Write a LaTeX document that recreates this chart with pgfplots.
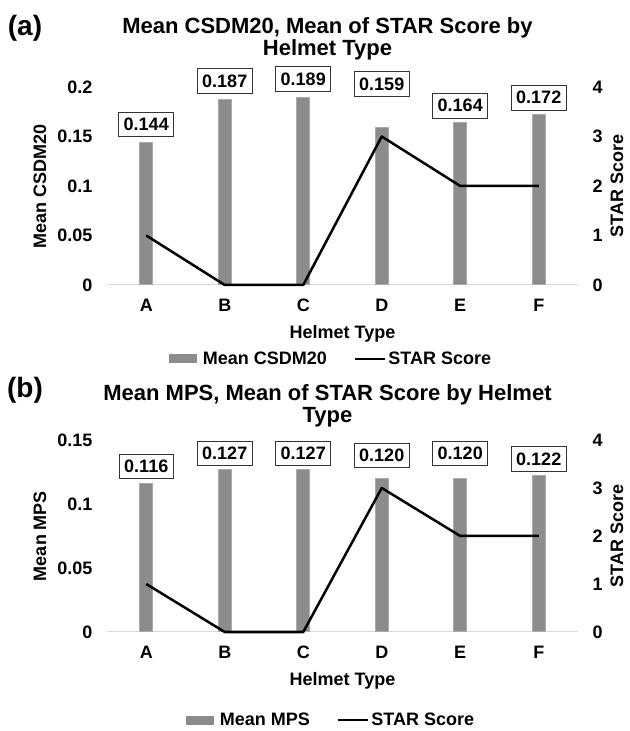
\documentclass[border=0pt]{standalone}
\usepackage{pgfplots}
\usepackage{pgfplotstable}
\pgfplotsset{compat=1.18}
\usepackage{fontspec}
\setmainfont{Liberation Sans}
\definecolor{barfill}{RGB}{140,140,140}
\definecolor{baredge}{RGB}{170,170,170}
\definecolor{zeroline}{RGB}{217,217,217}
\newcommand{\fs}{\fontsize{18bp}{21bp}\selectfont\bfseries}
\newcommand{\ft}{\fontsize{22bp}{22.5bp}\selectfont\bfseries}
\newcommand{\fp}{\fontsize{28bp}{30bp}\selectfont\bfseries}

\pgfplotstableread{
x y off
0 0.144 18
1 0.187 19
2 0.189 19
3 0.159 43.5
4 0.164 17
5 0.172 17
}\csdm
\pgfplotstableread{
x y off
0 0.116 17
1 0.127 16
2 0.127 16
3 0.120 23
4 0.120 25
5 0.122 17
}\mps
\pgfplotstableread{
x y
0 1
1 0
2 0
3 3
4 2
5 2
}\starscore

\pgfplotsset{
  base/.style={
    scale only axis, width=471bp,
    xmin=-0.5, xmax=5.5, enlargelimits=false,
    xtick={0,...,5}, xticklabels={A,B,C,D,E,F},
    tick style={draw=none}, major tick length=0pt,
    /pgf/number format/assume math mode=true,
    tick label style={font=\fs},
    clip=false,
  },
  leftax/.style={
    base,
    axis x line*=bottom, axis y line*=left,
    x axis line style={draw=zeroline, line width=1bp, -},
    y axis line style={draw=none},
    yticklabel style={xshift=-11bp},
    xticklabel style={yshift=-10.5bp},
    every axis y label/.style={at={(axis description cs:0,0.5)}, xshift=-67bp, rotate=90, anchor=center, font=\fs},
    every axis x label/.style={at={(axis description cs:0.5,0)}, yshift=-49bp, anchor=center, font=\fs},
    xlabel={Helmet Type},
    ybar, bar width=13bp,
  },
  labels/.style={
    visualization depends on={\thisrow{off} \as \labeloff},
    nodes near coords={\pgfmathprintnumber[fixed, fixed zerofill, precision=3, assume math mode=true]{\pgfplotspointmeta}},
    nodes near coords style={draw=black!80, line width=0.8bp, fill=white, inner xsep=5bp, inner ysep=6bp, font=\fs, anchor=center, yshift=\labeloff*1bp},
  },
  rightax/.style={
    base,
    xtick=\empty,
    axis x line=none, axis y line*=right,
    y axis line style={draw=none},
    ymin=0, ymax=4, ytick={0,1,2,3,4}, yticklabels={0,1,2,3,4},
    yticklabel style={xshift=11bp},
    every axis y label/.style={at={(axis description cs:1,0.5)}, xshift=39bp, rotate=90, anchor=center, font=\fs},
    ylabel={STAR Score},
    legend columns=2,
  },
  legbar/.style={legend image code/.code={\fill[barfill, draw=none] (0bp,-4.5bp) rectangle (28bp,4.5bp); \path[draw=none, fill=none] (0bp,0bp) rectangle (31bp,0.1bp);}},
  legline/.style={legend image code/.code={\draw[black, line width=2.5bp] (0bp,0bp) -- (30bp,0bp);}},
}

\begin{document}
\begin{tikzpicture}
\useasboundingbox (0,0) rectangle (630bp,731bp);

% ---------- Panel (a) ----------
\begin{axis}[leftax, at={(107bp,446bp)}, anchor=south west, height=198bp,
  ymin=0, ymax=0.2, ytick={0,0.05,0.1,0.15,0.2}, yticklabels={0,0.05,0.1,0.15,0.2},
  ylabel={Mean CSDM20},
  title={Mean CSDM20, Mean of STAR Score by\\Helmet Type},
  every axis title/.style={at={(axis description cs:0.5,1)}, anchor=north, yshift=70bp, xshift=-15bp, align=center, font=\ft, inner sep=0pt},
]
\addplot[labels, fill=barfill, draw=baredge, line width=1bp] table[x=x, y=y] {\csdm};
\node[font=\fp, anchor=center] at (axis description cs:0,1) [xshift=-82bp, yshift=59bp] {(a)};
\end{axis}
\begin{axis}[rightax, at={(107bp,446bp)}, anchor=south west, height=198bp,
  legend style={at={(axis description cs:0.5,0)}, anchor=center, xshift=-11bp, yshift=-74bp, draw=none, fill=none, font=\fs, nodes={inner sep=2.5bp}, /tikz/every even column/.append style={column sep=24bp}},
]
\addlegendimage{legbar}
\addlegendentry{Mean CSDM20}
\addplot[legline, black, line width=2.5bp, line join=round, mark=none] table[x=x, y=y] {\starscore};
\addlegendentry{STAR Score}
\end{axis}

% ---------- Panel (b) ----------
\begin{axis}[leftax, at={(107bp,99bp)}, anchor=south west, height=192bp,
  ymin=0, ymax=0.15, ytick={0,0.05,0.1,0.15}, yticklabels={0,0.05,0.1,0.15},
  ylabel={Mean MPS},
  title={Mean MPS, Mean of STAR Score by Helmet\\Type},
  every axis title/.style={at={(axis description cs:0.5,1)}, anchor=north, yshift=56bp, xshift=-15bp, align=center, font=\ft, inner sep=0pt},
]
\addplot[labels, fill=barfill, draw=baredge, line width=1bp] table[x=x, y=y] {\mps};
\node[font=\fp, anchor=center] at (axis description cs:0,1) [xshift=-82bp, yshift=50bp] {(b)};
\end{axis}
\begin{axis}[rightax, at={(107bp,99bp)}, anchor=south west, height=192bp,
  legend style={at={(axis description cs:0.5,0)}, anchor=center, xshift=-11bp, yshift=-88bp, draw=none, fill=none, font=\fs, nodes={inner sep=2.5bp}, /tikz/every even column/.append style={column sep=24bp}},
]
\addlegendimage{legbar}
\addlegendentry{Mean MPS}
\addplot[legline, black, line width=2.5bp, line join=round, mark=none] table[x=x, y=y] {\starscore};
\addlegendentry{STAR Score}
\end{axis}
\end{tikzpicture}
\end{document}
